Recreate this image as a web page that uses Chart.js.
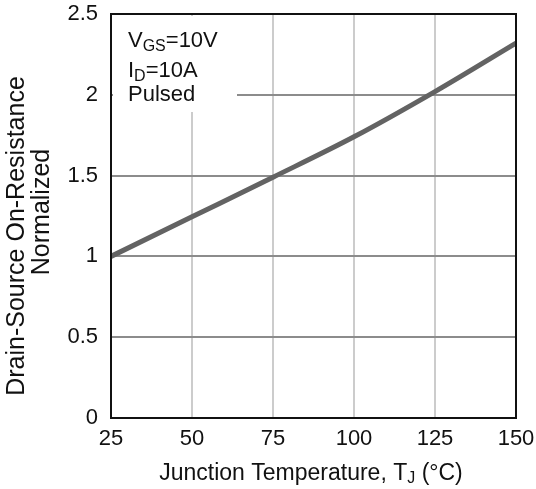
<!DOCTYPE html>
<html>
<head>
<meta charset="utf-8">
<script src="https://cdn.jsdelivr.net/npm/chart.js@4.4.1/dist/chart.umd.min.js"></script>
<style>
html,body{margin:0;padding:0;background:#fff;}
#wrap{width:536px;height:489px;position:relative;}
</style>
</head>
<body>
<div id="wrap"><canvas id="c" width="536" height="489"></canvas></div>
<script>
// Data
const temperatures = [25, 50, 75, 100, 125, 150];
const normalizedRds = [1.0, 1.245, 1.49, 1.74, 2.02, 2.32];
const xTickLabels = ['25', '50', '75', '100', '125', '150'];
const yTickLabels = ['0', '0.5', '1', '1.5', '2', '2.5'];
const yTitleLines = ['Drain-Source On-Resistance', 'Normalized'];
const xTitle = ['Junction Temperature, T', 'J', ' (°C)'];
const conditions = [['V', 'GS', '=10V'], ['I', 'D', '=10A'], ['Pulsed', '', '']];

const FONT = '"Liberation Sans", Arial, sans-serif';

function drawSub(ctx, x, y, parts, size, subSize, subDrop) {
  ctx.textAlign = 'left';
  ctx.textBaseline = 'alphabetic';
  ctx.font = size + 'px ' + FONT;
  ctx.fillText(parts[0], x, y);
  x += ctx.measureText(parts[0]).width;
  if (parts[1]) {
    ctx.font = subSize + 'px ' + FONT;
    ctx.fillText(parts[1], x, y + subDrop);
    x += ctx.measureText(parts[1]).width;
  }
  if (parts[2]) {
    ctx.font = size + 'px ' + FONT;
    ctx.fillText(parts[2], x, y);
  }
}

const decor = {
  id: 'decor',
  beforeDatasetsDraw(chart) {
    const ctx = chart.ctx;
    const a = chart.chartArea;
    ctx.save();
    ctx.fillStyle = '#ffffff';
    ctx.fillRect(a.left + 2, a.top + 2, 124, 96);
    ctx.fillStyle = '#111111';
    const baselines = [47, 77, 101];
    conditions.forEach((c, i) => drawSub(ctx, 128, baselines[i], c, 22, 16, 4));
    ctx.restore();
  },
  afterDatasetsDraw(chart) {
    const ctx = chart.ctx;
    const a = chart.chartArea;
    ctx.save();
    ctx.strokeStyle = '#111111';
    ctx.lineWidth = 2;
    ctx.strokeRect(a.left, a.top, a.right - a.left, a.bottom - a.top);
    // x axis title
    ctx.fillStyle = '#111111';
    ctx.font = '23px ' + FONT;
    let w = ctx.measureText(xTitle[0]).width + ctx.measureText(xTitle[2]).width;
    ctx.font = '16px ' + FONT;
    w += ctx.measureText(xTitle[1]).width;
    drawSub(ctx, 311 - w / 2, 480, xTitle, 23, 16, 3);
    // y axis title
    ctx.font = '25px ' + FONT;
    ctx.textAlign = 'center';
    ctx.textBaseline = 'middle';
    ctx.save();
    ctx.translate(17, 236);
    ctx.rotate(-Math.PI / 2);
    ctx.fillText(yTitleLines[0], 0, 0);
    ctx.restore();
    ctx.save();
    ctx.translate(42, 212);
    ctx.rotate(-Math.PI / 2);
    ctx.fillText(yTitleLines[1], 0, 0);
    ctx.restore();
    ctx.restore();
  }
};

new Chart(document.getElementById('c'), {
  type: 'line',
  data: {
    datasets: [{
      data: temperatures.map((t, i) => ({x: t, y: normalizedRds[i]})),
      borderColor: '#636363',
      borderWidth: 5,
      pointRadius: 0,
      fill: false,
      cubicInterpolationMode: 'monotone'
    }]
  },
  options: {
    responsive: false,
    animation: false,
    events: [],
    layout: {autoPadding: false, padding: {top: 14, right: 20, left: 0, bottom: 0}},
    plugins: {legend: {display: false}, tooltip: {enabled: false}},
    scales: {
      x: {
        type: 'linear', min: 25, max: 150,
        afterFit: s => { s.height = 71; s.paddingLeft = 0; s.paddingRight = 0; },
        afterBuildTicks: s => { s.ticks = temperatures.map(v => ({value: v})); },
        ticks: {
          callback: (v, i) => xTickLabels[i],
          font: {family: FONT, size: 22}, color: '#111', padding: 8, maxRotation: 0
        },
        grid: {color: '#cccccc', lineWidth: 2, drawTicks: false},
        border: {display: false}
      },
      y: {
        type: 'linear', min: 0, max: 2.5,
        afterFit: s => { s.width = 111; s.paddingTop = 0; s.paddingBottom = 0; },
        afterBuildTicks: s => { s.ticks = yTickLabels.map(v => ({value: parseFloat(v)})); },
        ticks: {
          callback: (v, i) => yTickLabels[i],
          font: {family: FONT, size: 22}, color: '#111', padding: 13
        },
        grid: {color: '#8c8c8c', lineWidth: 2, drawTicks: false},
        border: {display: false}
      }
    }
  },
  plugins: [decor]
});
</script>
</body>
</html>
